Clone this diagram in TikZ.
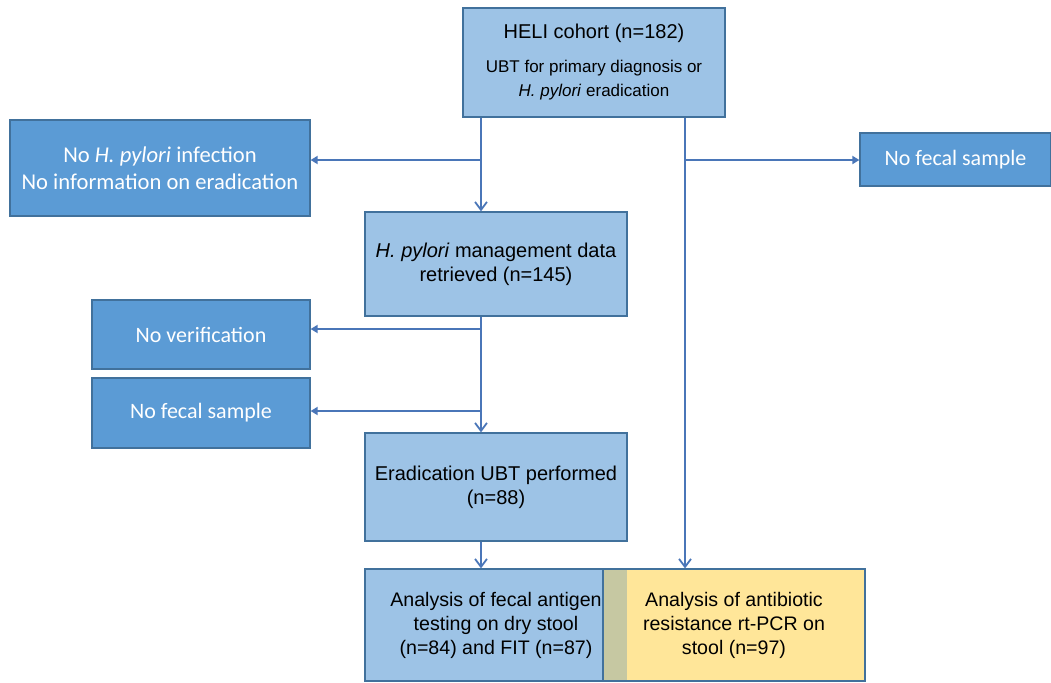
\documentclass[tikz,border=0pt]{standalone}
\usepackage{fontspec}
\setmainfont{Liberation Sans}
\newfontfamily\carlito{Carlito}
\usetikzlibrary{arrows.meta}

\definecolor{lightbox}{HTML}{9DC3E6}
\definecolor{darkbox}{HTML}{5B9BD5}
\definecolor{boxline}{HTML}{41719C}
\definecolor{flowline}{HTML}{4A76B8}
\definecolor{yellowbox}{HTML}{FFE699}
\definecolor{overlap}{HTML}{C6C8A2}

\newcommand{\subtext}{\fontsize{8.5}{10}\selectfont}

\begin{document}
\begin{tikzpicture}
	[
		x=0.5pt, y=-0.5pt,
		step box/.style={draw=boxline, fill=lightbox, line width=0.6pt, inner sep=0pt,
			minimum width=131pt, align=center, font=\fontsize{10}{12}\selectfont},
		excluded/.style={draw=boxline, fill=darkbox, line width=0.6pt, inner sep=0pt,
			text=white, align=center, font=\carlito\fontsize{11}{11.7}\selectfont},
		flow/.style={draw=flowline, line width=0.9pt, -{Straight Barb[length=4pt, width=6pt]}},
		side/.style={draw=flowline, line width=0.9pt, -{Triangle[length=3.5pt, width=4pt]}}
	]

	\useasboundingbox (0, 0) rectangle (1051, 682);

	\node (heli)    at (594, 62.5) [step box, minimum height=54.5pt]
		{HELI cohort (n=182)\\[5pt]
		 \subtext UBT for primary diagnosis or\\ \subtext \emph{H. pylori} eradication};
	\node (noinf)   at (160, 168) [excluded, minimum width=150pt, minimum height=48pt,
		font=\carlito\fontsize{11.3}{13.5}\selectfont]
		{No \emph{H. pylori} infection\\ No information on eradication};
	\node (nofecr)  at (955.5, 159.5) [excluded, minimum width=95.5pt, minimum height=26.5pt]
		{No fecal sample};

	\node (mgmt)    at (496, 264) [step box, minimum height=52pt]
		{\emph{H. pylori} management data\\ retrieved (n=145)};
	\node (noverif) at (201, 334.5) [excluded, minimum width=109pt, minimum height=34.5pt]
		{No verification};
	\node (nofecl)  at (201, 413) [excluded, minimum width=109pt, minimum height=35pt]
		{No fecal sample};

	\node (erad)    at (496, 487) [step box, minimum height=54pt]
		{Eradication UBT performed\\ (n=88)};

	\node (fecal)   at (496, 625) [step box, minimum height=56pt, font=\fontsize{9.8}{12}\selectfont]
		{Analysis of fecal antigen\\ testing on dry stool\\ (n=84) and FIT (n=87)};
	\node (resist)  at (734, 625) [step box, fill=yellowbox, minimum height=56pt, font=\fontsize{9.8}{12}\selectfont]
		{Analysis of antibiotic\\ resistance rt-PCR on\\ stool (n=97)};
	\node (strip)   at (615.3, 625) [fill=overlap, inner sep=0pt, minimum width=11.6pt, minimum height=55.3pt] {};

	\coordinate (ja) at (481, 160);
	\coordinate (jb) at (685, 160);
	\coordinate (jc) at (481, 329);
	\coordinate (jd) at (481, 411);

	\draw [flow] (heli.south -| ja) -- (mgmt.north -| ja);
	\draw [side] (ja) -- (ja -| noinf.east);
	\draw [flow] (heli.south -| jb) -- (resist.north -| jb);
	\draw [side] (jb) -- (jb -| nofecr.west);

	\draw [flow] (mgmt.south -| jc) -- (erad.north -| jc);
	\draw [side] (jc) -- (jc -| noverif.east);
	\draw [side] (jd) -- (jd -| nofecl.east);

	\draw [flow] (erad.south -| jc) -- (fecal.north -| jc);
\end{tikzpicture}
\end{document}
